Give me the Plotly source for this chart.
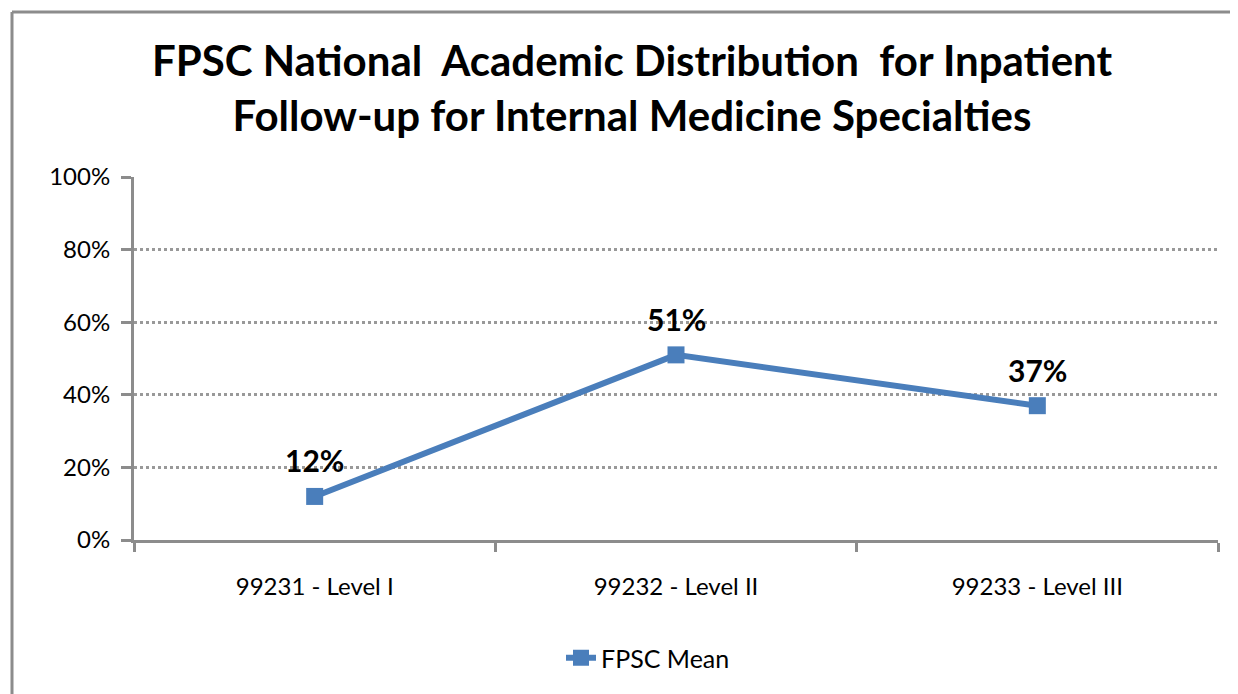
import plotly.graph_objects as go

categories = ["99231 - Level I", "99232 - Level II", "99233 - Level III"]
fpsc_mean = [0.12, 0.51, 0.37]
data_labels = ["12%", "51%", "37%"]
y_ticks = [0, 0.2, 0.4, 0.6, 0.8, 1.0]
y_tick_labels = ["0%", "20%", "40%", "60%", "80%", "100%"]

blue = "#4A7EBB"
grey = "#8C8C8C"
font_family = "Lato, Open Sans, sans-serif"

fig = go.Figure()
fig.add_trace(go.Scatter(
    x=categories, y=fpsc_mean, name="FPSC Mean",
    mode="lines+markers",
    line=dict(color=blue, width=6),
    marker=dict(symbol="square", size=17, color=blue),
    cliponaxis=False,
))

for cat, val, lab in zip(categories, fpsc_mean, data_labels):
    fig.add_annotation(
        x=cat, y=val, text=lab, showarrow=False,
        xanchor="center", yanchor="middle", yshift=36,
        font=dict(size=30, color="black", family=font_family, weight="bold"),
    )

# page has 8px body margin, so shift everything up/left by 8px
fig.update_layout(
    width=1238, height=694,
    margin=dict(l=126, r=28, t=169, b=162),
    paper_bgcolor="white", plot_bgcolor="white",
    font=dict(family=font_family, color="black"),
    title=dict(
        text="FPSC National  Academic Distribution  for Inpatient<br>Follow-up for Internal Medicine Specialties",
        x=624 / 1238, xanchor="center", y=1 - (76 - 8) / 694, yanchor="middle",
        font=dict(size=42, family=font_family, weight="bold", color="black"),
    ),
    showlegend=True,
    legend=dict(orientation="h", x=(648 - 134) / 1084, xanchor="center",
                y=-(658 - 540) / 363, yanchor="middle",
                font=dict(size=25, family=font_family, color="black")),
    xaxis=dict(
        type="category", range=[-0.5, 2.5],
        showline=True, linecolor=grey, linewidth=3,
        ticks="outside", tickson="boundaries", ticklen=9, tickwidth=3, tickcolor=grey,
        showgrid=False, tickfont=dict(size=24), ticklabelstandoff=23,
    ),
    yaxis=dict(
        range=[0, 1], tickvals=y_ticks, ticktext=y_tick_labels,
        showline=True, linecolor=grey, linewidth=3,
        ticks="outside", ticklen=10, tickwidth=3, tickcolor=grey,
        showgrid=True, gridcolor="#999999", gridwidth=3, griddash="dot",
        zeroline=False, tickfont=dict(size=24), ticklabelstandoff=6,
    ),
    shapes=[
        dict(type="line", xref="paper", yref="paper",
             x0=-122/1084, x1=1.1, y0=1 + 165/363, y1=1 + 165/363,
             line=dict(color=grey, width=3)),
        dict(type="line", xref="paper", yref="paper",
             x0=-122/1084, x1=-122/1084, y0=1 + 165/363, y1=-0.5,
             line=dict(color=grey, width=3)),
    ],
)

fig.write_html("out.html")
